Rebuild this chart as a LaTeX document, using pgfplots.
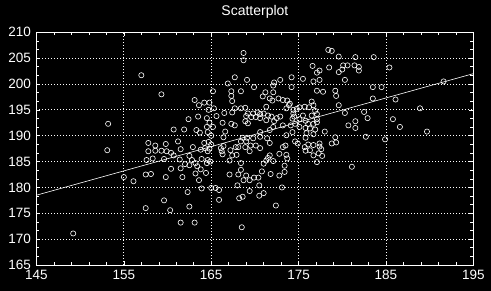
\documentclass[border=0pt]{standalone}
\usepackage{fontspec}
\setmainfont{Liberation Sans}
\usepackage{pgfplots}
\pgfplotsset{compat=1.18}
\begin{document}
\begin{tikzpicture}
\fill[black] (-36.5pt,-26pt) rectangle (454.5pt,265pt);
\begin{axis}[
  at={(0pt,0pt)}, anchor=south west,
  scale only axis, width=436.8pt, height=232.7pt,
  xmin=145, xmax=195, ymin=165, ymax=210,
  xtick={145,155,...,195}, ytick={165,170,...,210},
  minor x tick num=4, minor y tick num=2,
  axis line style={white, line width=0.8pt},
  tick style={white, line width=0.6pt},
  major tick length=4pt, minor tick length=3pt,
  grid=major,
  major grid style={white, line width=0.8pt, dash pattern=on 0.8pt off 2.2pt},
  /pgf/number format/assume math mode=true,
  /pgf/number format/set thousands separator={},
  tick label style={white, font=\fontsize{13.5}{14}\selectfont},
  xticklabel style={yshift=-2pt},
  yticklabel style={xshift=-2pt},
  title={Scatterplot},
  title style={white, font=\fontsize{14}{15}\selectfont, anchor=base, yshift=11pt},
]
\addplot[white, line width=0.6pt] coordinates {(145,178.5) (195,202.0)};
\addplot[only marks, mark=o, mark size=2.6pt, mark options={white, line width=0.6pt}] table {
x y
149.2 171.1
153.1 187.2
153.2 192.3
155.0 182.0
156.1 181.2
157.0 201.7
159.3 198.0
157.5 176.0
161.5 173.2
163.1 173.2
168.5 172.3
172.4 176.5
181.1 184.0
160.3 175.6
162.5 176.3
159.6 177.5
162.3 179.1
165.9 177.6
157.5 182.5
158.1 182.6
157.6 185.3
158.3 185.6
157.8 187.0
158.6 187.1
159.3 187.1
159.9 187.0
160.4 186.7
160.7 186.2
157.8 188.6
158.6 188.1
159.8 188.4
159.6 185.5
161.4 185.4
160.4 183.6
159.8 182.0
161.7 182.0
161.5 183.7
162.0 184.5
162.5 184.3
161.2 188.9
161.5 187.4
162.5 186.1
162.9 187.8
162.8 185.3
163.2 184.7
163.4 184.1
163.9 185.5
163.8 183.5
164.4 182.8
163.2 182.7
164.5 184.7
164.6 185.3
164.9 185.0
163.6 181.4
163.9 179.8
165.0 179.9
165.5 179.9
165.9 179.5
163.8 187.3
164.3 187.6
164.6 187.0
164.8 187.5
164.2 188.6
164.7 188.8
165.0 188.3
166.1 187.6
166.4 188.0
166.2 187.0
166.3 186.4
167.2 187.2
167.4 186.2
167.9 186.3
167.8 187.8
167.1 185.2
168.4 184.7
168.4 183.4
167.1 182.5
168.1 182.5
169.0 182.3
168.7 181.4
169.4 181.4
169.9 181.9
170.4 181.9
170.8 183.1
171.8 182.6
172.8 182.3
173.4 183.0
173.4 184.2
168.0 180.4
168.2 177.9
168.6 178.2
169.4 179.3
170.5 178.4
171.0 178.9
170.5 180.4
173.1 180.0
171.0 184.6
171.3 185.2
171.5 185.7
172.1 185.1
171.7 186.2
172.8 186.5
173.6 186.3
173.7 185.6
173.2 187.8
173.5 188.1
168.1 187.8
168.9 187.8
169.5 188.1
170.1 188.1
170.6 187.6
169.4 187.0
168.4 188.9
169.0 188.9
168.6 189.6
169.1 189.6
169.8 189.5
170.6 189.8
171.7 188.6
171.4 189.5
170.9 197.6
171.2 198.4
172.1 198.4
171.7 197.2
172.0 196.8
172.7 197.2
173.2 196.9
173.7 196.8
174.0 196.2
173.9 195.9
173.6 195.3
176.5 196.6
176.7 195.9
176.2 195.5
175.7 195.6
171.3 195.6
174.4 195.0
174.8 195.2
175.1 195.5
176.9 194.8
177.1 194.2
174.4 194.3
174.5 193.7
175.5 193.9
176.5 193.9
174.3 193.3
175.1 193.2
175.8 192.9
177.1 193.2
176.1 192.3
176.7 192.3
177.1 192.6
174.1 192.0
174.6 192.3
175.1 191.7
173.2 192.0
172.1 191.7
171.7 191.1
170.6 190.7
174.3 190.7
173.6 190.1
175.8 191.5
176.3 191.4
176.9 191.2
175.9 190.5
176.7 190.3
175.8 189.6
178.0 190.8
174.6 188.9
174.9 188.5
175.8 187.1
175.7 187.8
176.1 188.3
176.7 188.2
177.4 188.5
177.6 187.4
176.3 187.2
176.7 186.2
177.3 186.6
177.7 186.1
177.1 184.9
178.8 188.5
179.3 188.7
179.2 189.7
177.4 187.9
169.2 194.3
169.8 194.3
170.3 194.5
170.6 194.2
171.0 194.3
171.5 193.9
170.1 193.6
170.6 193.4
169.0 193.8
169.6 193.6
171.9 193.7
172.5 193.4
172.9 193.7
172.2 192.8
171.3 193.0
168.9 192.8
169.2 192.4
167.7 195.3
168.4 195.3
168.9 195.4
166.5 194.4
167.4 194.5
166.3 192.5
167.3 192.3
167.7 192.0
165.2 198.6
167.3 198.6
167.3 197.7
167.4 196.7
168.4 198.6
163.1 196.9
163.6 195.9
164.2 196.4
164.8 196.4
164.7 195.0
165.3 195.3
162.4 193.2
163.5 193.7
164.5 193.4
165.6 193.8
164.8 192.5
166.6 190.8
166.4 189.7
164.5 191.7
165.2 191.7
160.7 191.2
161.9 191.2
163.3 191.1
163.7 190.6
164.6 190.7
165.0 190.0
166.9 200.1
168.7 206.0
168.7 204.6
167.7 201.3
169.1 200.8
178.4 206.6
178.8 206.4
179.6 205.3
181.5 205.2
183.6 205.2
185.4 203.2
176.6 203.5
178.5 203.2
180.1 203.6
180.6 203.6
180.0 202.8
179.6 202.3
181.4 203.6
181.9 203.3
181.9 202.6
177.1 202.2
177.4 202.6
180.3 200.8
175.5 201.0
174.2 201.3
172.9 200.8
172.2 200.3
172.1 199.7
176.7 200.5
177.4 200.8
174.2 199.4
169.9 199.4
177.1 198.7
177.8 198.5
179.2 198.7
179.3 197.7
183.5 199.4
184.5 199.4
183.5 197.2
186.1 197.0
191.6 200.5
188.9 195.3
185.8 193.2
186.6 191.7
189.7 190.8
184.9 189.3
182.7 189.8
182.5 194.6
182.9 193.4
181.5 192.8
181.5 191.5
180.7 192.0
180.3 194.4
179.6 195.9
};
\end{axis}
\end{tikzpicture}
\end{document}
